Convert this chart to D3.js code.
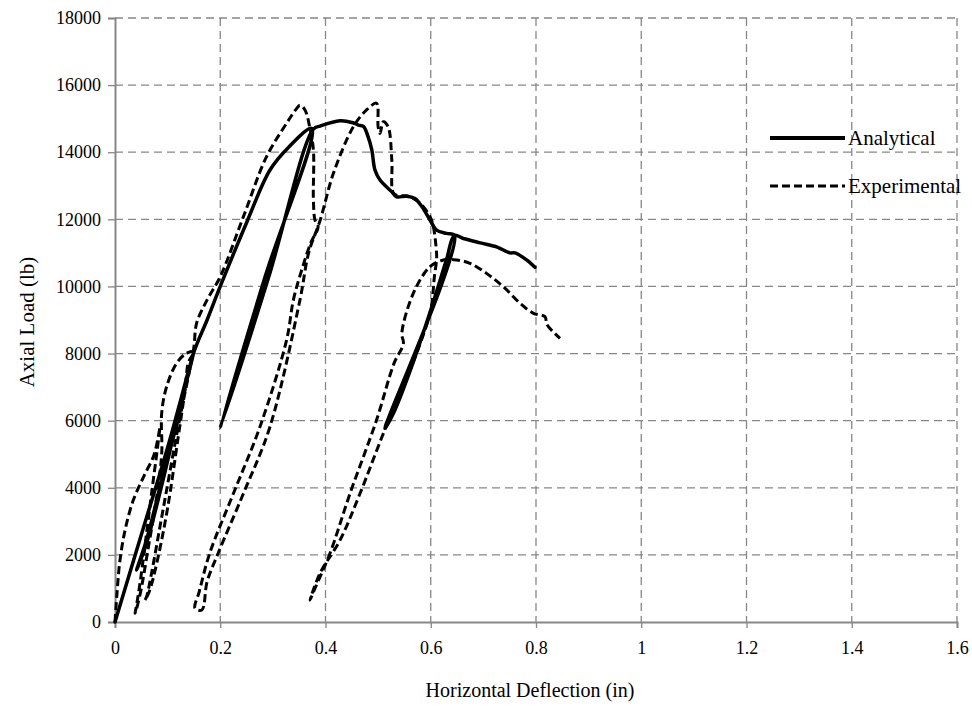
<!DOCTYPE html>
<html>
<head>
<meta charset="utf-8">
<script src="https://cdn.jsdelivr.net/npm/d3@7"></script>
<style>
  html, body { margin: 0; padding: 0; background: #fff; }
  svg text { font-family: "Liberation Serif", "Times New Roman", serif; fill: #000; }
</style>
</head>
<body>
<div id="chart"></div>
<script>
// ---------- Data (deflection in, load lb) ----------
const analytical = [
  [0, 0], [0.05, 2600], [0.1, 5200], [0.14, 7500], [0.149, 8000],
  [0.12, 6150], [0.09, 4150], [0.06, 2350], [0.041, 1550],
  [0.06, 2450], [0.09, 4300], [0.12, 6050], [0.149, 8000],
  [0.175, 9000], [0.2, 10000], [0.25, 11900], [0.2945, 13470], [0.33, 14150], [0.374, 14710],
  [0.2855, 10300], [0.1995, 5770],
  [0.2915, 10250], [0.377, 14690],
  [0.39, 14780], [0.4275, 14940], [0.452, 14880], [0.4625, 14810], [0.472, 14770],
  [0.481, 14460], [0.488, 14070], [0.494, 13470], [0.5036, 13170], [0.526, 12820],
  [0.535, 12670], [0.554, 12690], [0.57, 12620], [0.583, 12380], [0.5986, 11980],
  [0.611, 11680], [0.63, 11580], [0.645, 11520],
  [0.513, 5770],
  [0.53, 6250], [0.56, 7450], [0.6, 9300], [0.63, 10800], [0.645, 11520],
  [0.662, 11430], [0.694, 11300], [0.725, 11180], [0.7506, 11000], [0.76, 11000],
  [0.782, 10790], [0.798, 10570]
];

const experimental = [
  [0, 0], [0.004, 900], [0.0095, 1850], [0.02, 2800], [0.035, 3640], [0.055, 4350],
  [0.073, 4930], [0.082, 5500], [0.0855, 5820],
  [0.08, 5100], [0.07, 3900], [0.058, 2400], [0.047, 1100], [0.04, 420], [0.038, 260],
  [0.042, 450], [0.05, 1000], [0.062, 2100], [0.075, 3300], [0.085, 4400], [0.089, 5100],
  [0.0887, 6220], [0.098, 7010], [0.117, 7710], [0.136, 8010], [0.152, 8060],
  [0.145, 7900], [0.139, 7710], [0.133, 6910], [0.12, 5500], [0.1, 3400], [0.08, 1800],
  [0.065, 900], [0.057, 650],
  [0.06, 750], [0.07, 1500], [0.085, 2800], [0.1, 4100], [0.115, 5400], [0.13, 6600],
  [0.143, 7600], [0.15, 8200], [0.155, 8900], [0.175, 9600], [0.2, 10290], [0.244, 12080],
  [0.288, 13870], [0.326, 14860], [0.345, 15300], [0.3515, 15400], [0.361, 15260],
  [0.3705, 14710], [0.377, 14070], [0.377, 12580], [0.38, 11980], [0.386, 11780],
  [0.372, 11300], [0.355, 10500], [0.339, 9600], [0.326, 8400], [0.2755, 5820],
  [0.225, 3830], [0.18, 2050], [0.16, 900], [0.152, 410],
  [0.165, 360], [0.175, 1200], [0.196, 2050], [0.244, 3830], [0.2945, 5820],
  [0.3515, 9600], [0.368, 11000], [0.39, 11980], [0.415, 13370], [0.453, 14760],
  [0.478, 15260], [0.497, 15460], [0.5, 14760], [0.5036, 14560], [0.51, 14910],
  [0.519, 14760], [0.526, 13770], [0.529, 12780], [0.54, 12700], [0.555, 12700],
  [0.5796, 12480], [0.5986, 12080], [0.605, 11780], [0.611, 10990], [0.611, 10790],
  [0.607, 10300], [0.6, 9300], [0.58, 8300], [0.55, 7100], [0.51, 5620],
  [0.4656, 3830], [0.4276, 2440], [0.3895, 1450], [0.3705, 650],
  [0.38, 1000], [0.4086, 2050], [0.4466, 3830], [0.497, 6020], [0.53, 7700],
  [0.548, 8300], [0.545, 8600], [0.567, 9800], [0.5986, 10590], [0.624, 10790],
  [0.649, 10790], [0.6746, 10690], [0.706, 10390], [0.738, 9990], [0.7696, 9500],
  [0.795, 9200], [0.817, 9100], [0.82, 8900], [0.8235, 8800], [0.8456, 8450]
];

const xTicks = [0, 0.2, 0.4, 0.6, 0.8, 1, 1.2, 1.4, 1.6];
const yTicks = [0, 2000, 4000, 6000, 8000, 10000, 12000, 14000, 16000, 18000];
const seriesNames = ["Analytical", "Experimental"];

// ---------- Layout ----------
const width = 972, height = 708;
const margin = { top: 18, right: 15, bottom: 86, left: 115 };
const innerWidth = width - margin.left - margin.right;
const innerHeight = height - margin.top - margin.bottom;

const svg = d3.select("#chart").append("svg")
  .attr("width", width)
  .attr("height", height);

const g = svg.append("g")
  .attr("transform", `translate(${margin.left},${margin.top})`);

// ---------- Scales ----------
const x = d3.scaleLinear().domain([0, 1.6]).range([0, innerWidth]);
const y = d3.scaleLinear().domain([0, 18000]).range([innerHeight, 0]);

// ---------- Grid ----------
const gridColor = "#878787";

g.append("g")
  .selectAll("line")
  .data(yTicks.filter(d => d > 0))
  .join("line")
  .attr("x1", 0).attr("x2", innerWidth)
  .attr("y1", d => y(d)).attr("y2", d => y(d))
  .attr("stroke", gridColor)
  .attr("stroke-width", 1.3)
  .attr("stroke-dasharray", "8,5");

g.append("g")
  .selectAll("line")
  .data(xTicks.filter(d => d > 0))
  .join("line")
  .attr("x1", d => x(d)).attr("x2", d => x(d))
  .attr("y1", 0).attr("y2", innerHeight)
  .attr("stroke", gridColor)
  .attr("stroke-width", 1.3)
  .attr("stroke-dasharray", "8,5");

// ---------- Axes ----------
const xAxis = g.append("g")
  .attr("transform", `translate(0,${innerHeight})`)
  .call(d3.axisBottom(x).tickValues(xTicks).tickSize(6).tickPadding(13)
    .tickFormat(d => String(+d.toFixed(1))));

const yAxis = g.append("g")
  .call(d3.axisLeft(y).tickValues(yTicks).tickSize(7).tickPadding(7)
    .tickFormat(d3.format("d")));

[xAxis, yAxis].forEach(ax => {
  ax.attr("font-family", "Liberation Serif").attr("font-size", 18);
  ax.select(".domain").attr("stroke", gridColor).attr("stroke-width", 2);
  ax.selectAll(".tick line").attr("stroke", gridColor).attr("stroke-width", 1.3);
  ax.selectAll(".tick text")
    .attr("font-family", "Liberation Serif")
    .attr("font-size", 18)
    .style("font-size", "18px")
    .attr("fill", "#000");
});

// ---------- Lines ----------
const line = d3.line()
  .x(d => x(d[0]))
  .y(d => y(d[1]))
  .curve(d3.curveCatmullRom.alpha(0.5));

g.append("path")
  .datum(analytical)
  .attr("fill", "none")
  .attr("stroke", "#000")
  .attr("stroke-width", 3.5)
  .attr("stroke-linejoin", "round")
  .attr("stroke-linecap", "round")
  .attr("d", line);

g.append("path")
  .datum(experimental)
  .attr("fill", "none")
  .attr("stroke", "#000")
  .attr("stroke-width", 3)
  .attr("stroke-dasharray", "8,4")
  .attr("stroke-linejoin", "round")
  .attr("d", line);

// ---------- Legend ----------
const legend = svg.append("g").attr("transform", "translate(770,138)");
seriesNames.forEach((name, i) => {
  const row = legend.append("g").attr("transform", `translate(0,${i * 48})`);
  row.append("line")
    .attr("x1", 0).attr("x2", 75)
    .attr("stroke", "#000")
    .attr("stroke-width", i === 0 ? 4 : 3)
    .attr("stroke-dasharray", i === 0 ? null : "8,4");
  row.append("text")
    .attr("x", 78)
    .attr("dy", "0.35em")
    .style("font-size", "21px")
    .text(name);
});

// ---------- Axis titles ----------
svg.append("text")
  .attr("x", margin.left + innerWidth / 2 - 6)
  .attr("y", 697)
  .attr("text-anchor", "middle")
  .style("font-size", "20px")
  .text("Horizontal Deflection (in)");

svg.append("text")
  .attr("transform", "rotate(-90)")
  .attr("x", -322)
  .attr("y", 34)
  .attr("text-anchor", "middle")
  .style("font-size", "21px")
  .text("Axial Load (lb)");
</script>
</body>
</html>
